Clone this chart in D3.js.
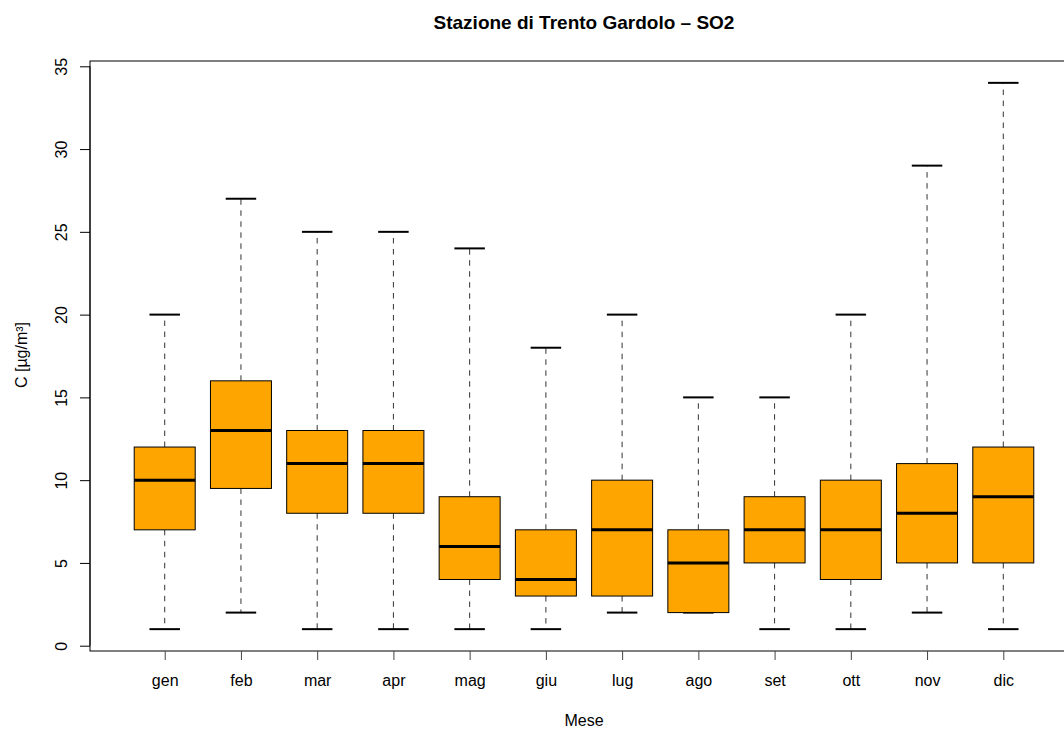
<!DOCTYPE html>
<html>
<head>
<meta charset="utf-8">
<script src="https://cdn.jsdelivr.net/npm/d3@7"></script>
<style>
  body { margin: 0; background: #fff; }
  text { font-family: "Liberation Sans", Arial, sans-serif; fill: #000; }
</style>
</head>
<body>
<div id="chart"></div>
<script>
// monthly SO2 statistics (µg/m³)
var months = ["gen", "feb", "mar", "apr", "mag", "giu", "lug", "ago", "set", "ott", "nov", "dic"];
var whiskerLow  = [1, 2, 1, 1, 1, 1, 2, 2, 1, 1, 2, 1];
var q1          = [7, 9.5, 8, 8, 4, 3, 3, 2, 5, 4, 5, 5];
var medians     = [10, 13, 11, 11, 6, 4, 7, 5, 7, 7, 8, 9];
var q3          = [12, 16, 13, 13, 9, 7, 10, 7, 9, 10, 11, 12];
var whiskerHigh = [20, 27, 25, 25, 24, 18, 20, 15, 15, 20, 29, 34];
var yTicks = [0, 5, 10, 15, 20, 25, 30, 35];

var W = 1064, H = 729;
var plot = {left: 90, right: 1078, top: 61, bottom: 651};

var svg = d3.select("#chart").append("svg")
	.attr("width", W).attr("height", H);

// R style: range 0.5..12.5 extended by 4%
var x = d3.scaleLinear().domain([0.02, 12.98]).range([plot.left, plot.right]);
var y = d3.scaleLinear().domain([-0.32, 35.32]).range([plot.bottom, plot.top]);

var step = x(2) - x(1);
var boxHalf = 0.4 * step;
var capHalf = 0.2 * step;

var data = months.map(function(m, i) {
	return {m: m, i: i + 1, lo: whiskerLow[i], q1: q1[i], med: medians[i], q3: q3[i], hi: whiskerHigh[i]};
});

var g = svg.append("g");
var box = g.selectAll("g.box").data(data).enter().append("g").attr("class", "box");

// whiskers
box.append("line")
	.attr("x1", function(d) { return x(d.i); }).attr("x2", function(d) { return x(d.i); })
	.attr("y1", function(d) { return y(d.q3); }).attr("y2", function(d) { return y(d.hi); })
	.attr("stroke", "#333").attr("stroke-dasharray", "5.5,5.5");
box.append("line")
	.attr("x1", function(d) { return x(d.i); }).attr("x2", function(d) { return x(d.i); })
	.attr("y1", function(d) { return y(d.q1); }).attr("y2", function(d) { return y(d.lo); })
	.attr("stroke", "#333").attr("stroke-dasharray", "5.5,5.5");
// caps
["hi", "lo"].forEach(function(k) {
	box.append("line")
		.attr("x1", function(d) { return x(d.i) - capHalf; }).attr("x2", function(d) { return x(d.i) + capHalf; })
		.attr("y1", function(d) { return y(d[k]); }).attr("y2", function(d) { return y(d[k]); })
		.attr("stroke", "#000").attr("stroke-width", 2);
});
// boxes
box.append("rect")
	.attr("x", function(d) { return x(d.i) - boxHalf; })
	.attr("width", 2 * boxHalf)
	.attr("y", function(d) { return y(d.q3); })
	.attr("height", function(d) { return y(d.q1) - y(d.q3); })
	.attr("fill", "#FFA500").attr("stroke", "#000");
// medians
box.append("line")
	.attr("x1", function(d) { return x(d.i) - boxHalf; }).attr("x2", function(d) { return x(d.i) + boxHalf; })
	.attr("y1", function(d) { return y(d.med); }).attr("y2", function(d) { return y(d.med); })
	.attr("stroke", "#000").attr("stroke-width", 3);

// frame
svg.append("rect")
	.attr("x", plot.left).attr("y", plot.top)
	.attr("width", plot.right - plot.left).attr("height", plot.bottom - plot.top)
	.attr("fill", "none").attr("stroke", "#000");

// x axis
var xAxis = svg.append("g").attr("transform", "translate(0," + plot.bottom + ")")
	.call(d3.axisBottom(x).tickValues(d3.range(1, 13)).tickFormat(function(v) { return months[v - 1]; })
		.tickSize(9));
xAxis.select(".domain").remove();
xAxis.selectAll(".tick line").attr("stroke", "#444");
xAxis.selectAll(".tick text")
	.attr("y", 35).attr("dy", null)
	.style("font-size", "16px").style("font-family", "Liberation Sans, Arial, sans-serif");

// y axis
var yAxis = svg.append("g").attr("transform", "translate(" + plot.left + ",0)")
	.call(d3.axisLeft(y).tickValues(yTicks).tickSize(10));
yAxis.select(".domain").attr("d", "M0," + y(0) + "V" + y(35)).attr("stroke", "#000");
yAxis.selectAll(".tick text")
	.attr("x", null).attr("dy", null)
	.attr("transform", "translate(-29,0) rotate(-90)")
	.attr("text-anchor", "middle").attr("dy", "0.35em")
	.style("font-size", "16px").style("font-family", "Liberation Sans, Arial, sans-serif");

// titles
svg.append("text").attr("x", 584).attr("y", 29).attr("text-anchor", "middle")
	.style("font-size", "19px").style("font-weight", "bold")
	.text("Stazione di Trento Gardolo \u2013 SO2");
svg.append("text").attr("x", 584).attr("y", 726).attr("text-anchor", "middle")
	.style("font-size", "16px").text("Mese");
svg.append("text").attr("transform", "translate(27,355) rotate(-90)").attr("text-anchor", "middle")
	.style("font-size", "16px").text("C [\u00b5g/m\u00b3]");
</script>
</body>
</html>
